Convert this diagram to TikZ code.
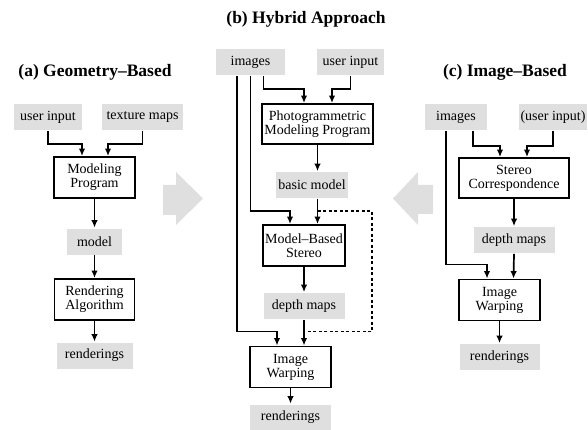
\documentclass[tikz,border=0pt]{standalone}
\usepackage{fontspec}
\setmainfont{Liberation Serif}
\usetikzlibrary{arrows.meta}

\tikzstyle{g} = [rectangle, fill=gray!25, minimum height=26pt, inner sep=2pt, font=\fontsize{14}{14}\selectfont]
\tikzstyle{b} = [rectangle, draw, line width=1.9pt, minimum height=41pt, align=center, inner sep=2pt, font=\fontsize{14}{14}\selectfont]
\tikzstyle{t} = [font=\fontsize{17.5}{18}\selectfont\bfseries]

\begin{document}
\begin{tikzpicture}[x=1pt, y=-1pt, >={Latex[length=7.5pt,width=6.5pt]}, line width=1.7pt]
	\useasboundingbox (0,0) rectangle (588,430);

	\fill [gray!25] (163,185) -- (176,185) -- (176,172) -- (203,198.5) -- (176,225) -- (176,215) -- (163,215) -- cycle;
	\fill [gray!25] (433,185) -- (418,185) -- (418,172) -- (393,198.5) -- (418,225) -- (418,214) -- (433,214) -- cycle;

	\node [t] (ta) at (95,72) {(a) Geometry--Based};
	\node [b, minimum width=81pt] (mp) at (94.5,177.5) {Modeling\\Program};
	\node [g, minimum width=68pt] (ua) at (48,117) {user input};
	\node [g, minimum width=81pt] (tm) at (142.5,117) {texture maps};
	\node [g, minimum width=55pt, below of=mp, node distance=64pt] (md) {model};
	\node [b, minimum width=80pt, below of=md, node distance=58pt] (ra) {Rendering\\Algorithm};
	\node [g, minimum width=76pt, below of=ra, node distance=56pt] (rr) {renderings};

	\node [t] (tb) at (306,19) {(b) Hybrid Approach};
	\node [g, minimum width=69pt] (ib) at (250.5,62) {images};
	\node [g, minimum width=67pt] (ub) at (350.5,62) {user input};
	\node [b, minimum width=109pt, minimum height=40pt] (pm) at (317.5,124) {Photogrammetric\\Modeling Program};
	\node [g, minimum width=70pt] (bm) at (312,185) {basic model};
	\node [b, minimum width=82pt] (ms) at (304,245.5) {Model--Based\\Stereo};
	\node [g, minimum width=81pt, below of=ms, node distance=60.5pt] (db) {depth maps};
	\node [b, minimum width=81pt] (wb) at (290.5,367) {Image\\Warping};
	\node [g, minimum width=81pt, below of=wb, node distance=50.5pt] (rb) {renderings};

	\node [t] (tc) at (505,72) {(c) Image--Based};
	\node [g, minimum width=62pt] (ic) at (456,117.5) {images};
	\node [g, minimum width=66pt] (uc) at (553,117.5) {(user input)};
	\node [b, minimum width=110pt, minimum height=40pt] (sc) at (514,178) {Stereo\\Correspondence};
	\node [g, minimum width=81pt, below of=sc, node distance=62pt] (dc) {depth maps};
	\node [b, minimum width=81pt] (wc) at (499.5,300) {Image\\Warping};
	\node [g, minimum width=80pt, below of=wc, node distance=57pt] (rc) {renderings};

	\draw [->] (ua.south) |- ([xshift=-12.5pt,yshift=12pt]mp.north) -- ([xshift=-12.5pt]mp.north);
	\draw [->] (tm.south) |- ([xshift=13.5pt,yshift=12pt]mp.north) -- ([xshift=13.5pt]mp.north);
	\draw [->] (mp) -- (md);
	\draw [->] (md) -- (ra);
	\draw [->] (ra) -- (rr);

	\draw [->] ([xshift=13pt]ib.south) |- ([xshift=-13.5pt,yshift=14pt]pm.north) -- ([xshift=-13.5pt]pm.north);
	\draw [->] (ub.south) |- ([xshift=14.5pt,yshift=14pt]pm.north) -- ([xshift=14.5pt]pm.north);
	\draw [->] (pm.south) -- ([xshift=5.5pt]bm.north);
	\draw [->] ([xshift=5.5pt]bm.south) -- ([xshift=13.5pt]ms.north);
	\draw [->] (ib.south) |- ([xshift=-14pt,yshift=13pt]ms.north) -- ([xshift=-14pt]ms.north);
	\draw [->] (ms) -- (db);
	\draw [->] (db.south) -- ([xshift=13.5pt]wb.north);
	\draw [->] ([xshift=-13.5pt]ib.south) |- ([xshift=-13.5pt,yshift=14pt]wb.north) -- ([xshift=-13.5pt]wb.north);
	\draw [dash pattern=on 3pt off 2.5pt] ([xshift=13.5pt,yshift=13pt]ms.north) -| ([xshift=81.5pt,yshift=14pt]wb.north) -- ([xshift=13.5pt,yshift=14pt]wb.north);
	\draw [->] (wb) -- (rb);

	\draw [->] ([xshift=17pt]ic.south) |- ([xshift=-14pt,yshift=11pt]sc.north) -- ([xshift=-14pt]sc.north);
	\draw [->] (uc.south) |- ([xshift=13pt,yshift=11pt]sc.north) -- ([xshift=13pt]sc.north);
	\draw [->] (sc) -- (dc);
	\draw [->] (dc.south) -- ([xshift=14pt]wc.north);
	\draw [->] ([xshift=-10pt]ic.south) |- ([xshift=-12.5pt,yshift=14pt]wc.north) -- ([xshift=-12.5pt]wc.north);
	\draw [->] (wc) -- (rc);
\end{tikzpicture}
\end{document}
